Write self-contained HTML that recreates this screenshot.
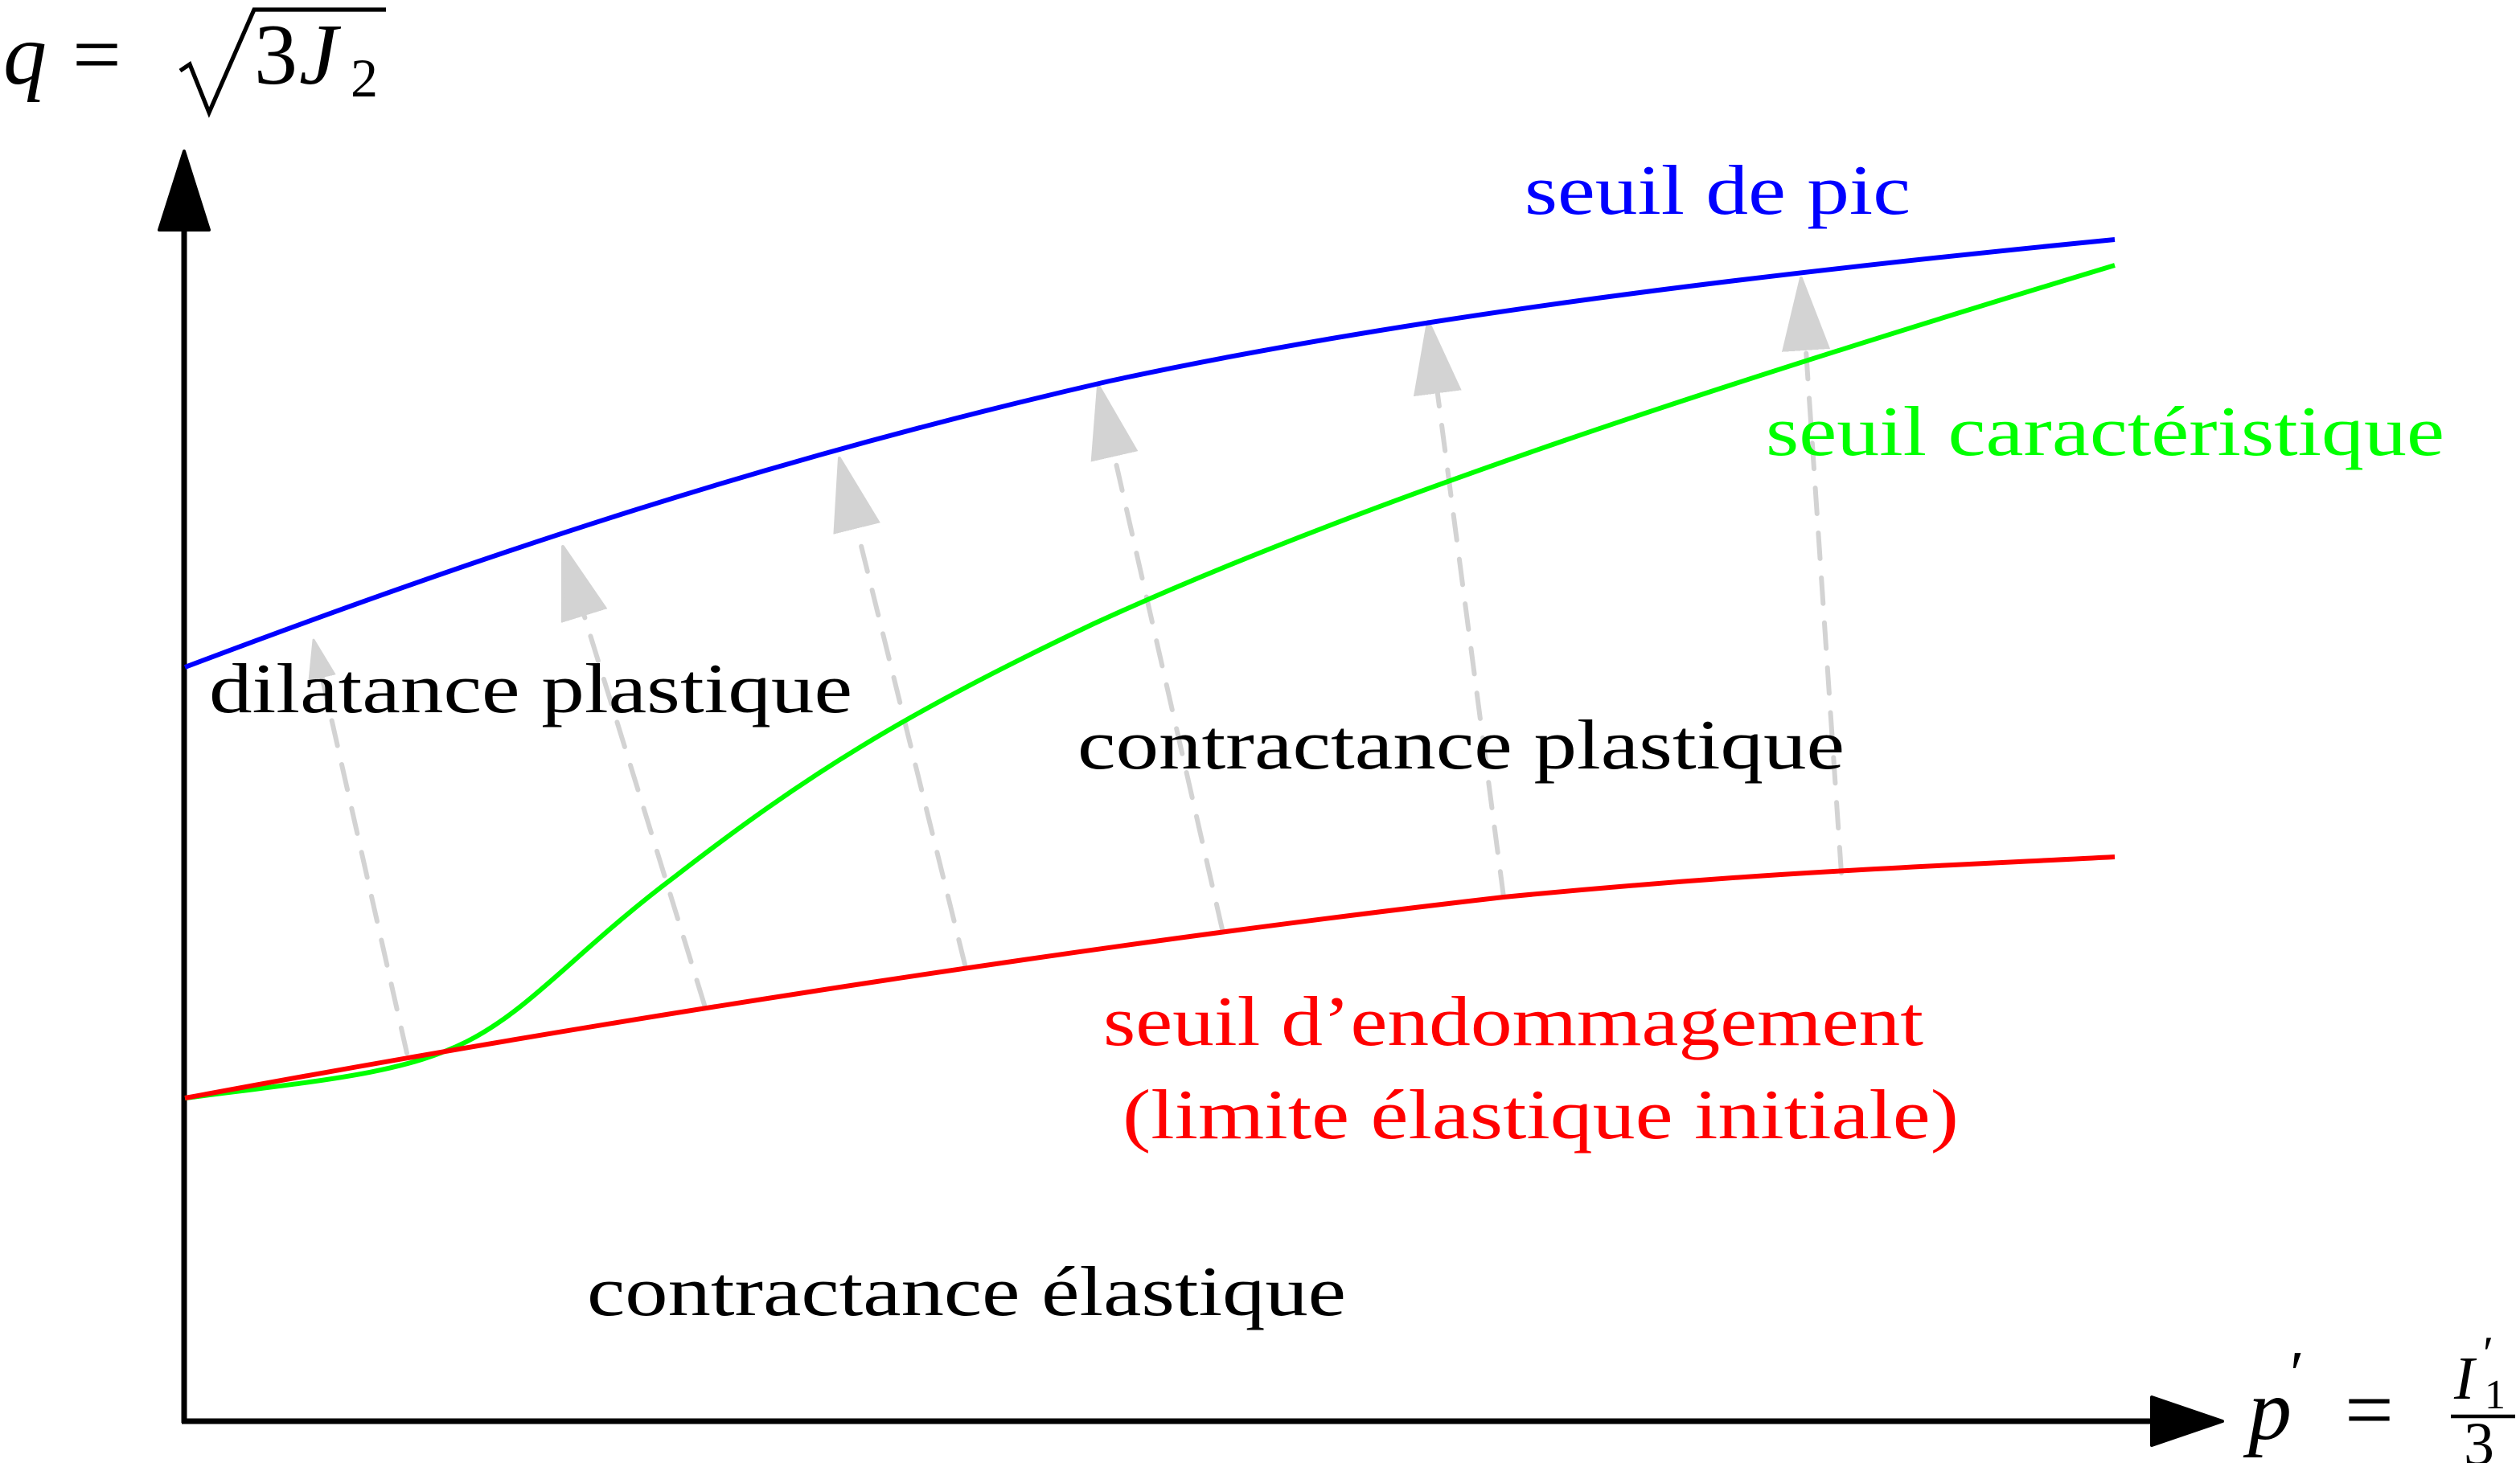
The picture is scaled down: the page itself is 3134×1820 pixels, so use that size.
<!DOCTYPE html>
<html><head><meta charset="utf-8"><style>
html,body{margin:0;padding:0;background:#fff;}
svg{display:block;}
text{font-family:"Liberation Serif",serif;}
</style></head><body>
<svg width="3134" height="1820" viewBox="0 0 1567 910" xmlns="http://www.w3.org/2000/svg">
<defs>
<marker id="ah" markerUnits="userSpaceOnUse" markerWidth="50" markerHeight="32" refX="0" refY="14" orient="auto" viewBox="0 0 50 28">
<path d="M0,0 L45,14 L0,28 z" fill="#d3d3d3" stroke="#d3d3d3" stroke-width="2" stroke-linejoin="round"/>
</marker>
<marker id="ahs" markerUnits="userSpaceOnUse" markerWidth="30" markerHeight="20" refX="0" refY="8" orient="auto" viewBox="0 0 30 16">
<path d="M0,0 L24,8 L0,16 z" fill="#d3d3d3" stroke="#d3d3d3" stroke-width="1.5" stroke-linejoin="round"/>
</marker>
</defs>
<!-- axes -->
<line x1="114.5" y1="885" x2="114.5" y2="140" stroke="#000" stroke-width="3.5"/>
<polygon points="114.5,94 99,143 130,143" fill="#000" stroke="#000" stroke-width="2" stroke-linejoin="round"/>
<line x1="113" y1="884" x2="1340" y2="884" stroke="#000" stroke-width="3.5"/>
<polygon points="1382,884 1338,869 1338,899" fill="#000" stroke="#000" stroke-width="2" stroke-linejoin="round"/>

<!-- gray dashed arrows -->
<g stroke="#d3d3d3" stroke-width="3" stroke-dasharray="16,12" stroke-linecap="round" fill="none">
<line x1="253" y1="655" x2="200.3" y2="421.5" marker-end="url(#ahs)"/>
<line x1="438" y1="625" x2="363.3" y2="383" marker-end="url(#ah)"/>
<line x1="600" y1="600" x2="532.8" y2="328.7" marker-end="url(#ah)"/>
<line x1="760" y1="578" x2="693" y2="283.9" marker-end="url(#ah)"/>
<line x1="935" y1="558" x2="893.9" y2="244.6" marker-end="url(#ah)"/>
<line x1="1145" y1="543" x2="1123" y2="217.9" marker-end="url(#ah)"/>
</g>

<!-- curves -->
<path d="M115,415 C300,345 480,285 690,237 C880,196 1100,170 1315,149" stroke="#0000ff" stroke-width="3" fill="none"/>
<path d="M115,683 C200,672 250,668 290,648 C330,628 360,590 420,545 C500,483 560,445 680,388 C850,310 1080,236 1315,165" stroke="#00ff00" stroke-width="3" fill="none"/>
<path d="M115,683 C400,630 700,585 935,558 C1100,542 1200,539 1315,533" stroke="#ff0000" stroke-width="3" fill="none"/>

<!-- labels -->
<text x="948" y="133" font-size="44" fill="#0000ff" textLength="240" lengthAdjust="spacingAndGlyphs">seuil de pic</text>
<text x="1098" y="283" font-size="44" fill="#00ff00" textLength="422" lengthAdjust="spacingAndGlyphs">seuil caractéristique</text>
<text x="130" y="443" font-size="44" fill="#000" textLength="400" lengthAdjust="spacingAndGlyphs">dilatance plastique</text>
<text x="670" y="478" font-size="44" fill="#000" textLength="477" lengthAdjust="spacingAndGlyphs">contractance plastique</text>
<text x="686" y="650" font-size="44" fill="#ff0000" textLength="510" lengthAdjust="spacingAndGlyphs">seuil d’endommagement</text>
<text x="698" y="708" font-size="44" fill="#ff0000" textLength="520" lengthAdjust="spacingAndGlyphs">(limite élastique initiale)</text>
<text x="365" y="818" font-size="44" fill="#000" textLength="472" lengthAdjust="spacingAndGlyphs">contractance élastique</text>

<!-- q label -->
<text x="2" y="52" font-size="54" font-style="italic" fill="#000">q</text>
<text x="45" y="52" font-size="54" fill="#000">=</text>
<path d="M112,44 L118,40 L130,70 L158,6 L240,6" stroke="#000" stroke-width="2.6" fill="none"/>
<text x="158" y="52" font-size="54" fill="#000">3</text>
<text x="186" y="52" font-size="54" font-style="italic" fill="#000">J</text>
<text x="218" y="60" font-size="34" fill="#000">2</text>

<!-- p label -->
<text x="1398" y="895" font-size="54" font-style="italic" fill="#000">p</text>
<text x="1424" y="868" font-size="40" fill="#000">′</text>
<text x="1458" y="895" font-size="54" fill="#000">=</text>
<text x="1526" y="870" font-size="38" font-style="italic" fill="#000">I</text>
<text x="1544" y="852" font-size="30" fill="#000">′</text>
<text x="1545" y="876" font-size="26" fill="#000">1</text>
<line x1="1524" y1="881" x2="1564" y2="881" stroke="#000" stroke-width="2.2"/>
<text x="1532" y="911" font-size="38" fill="#000">3</text>
</svg>
</body></html>
